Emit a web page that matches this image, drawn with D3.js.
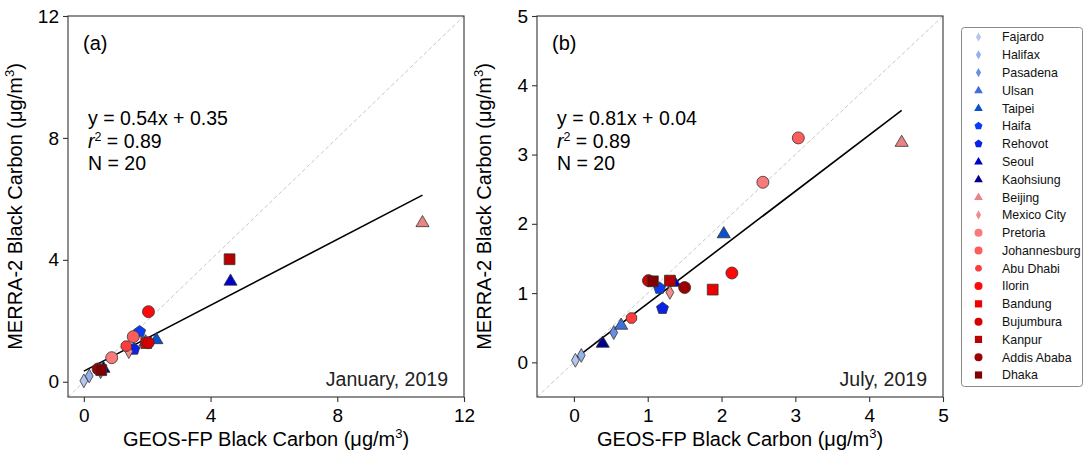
<!DOCTYPE html>
<html><head><meta charset="utf-8">
<script src="https://cdn.jsdelivr.net/npm/d3@7"></script>
<style>
html,body{margin:0;padding:0;background:#fff;}
svg{display:block;font-family:"Liberation Sans",Arial,sans-serif;}
</style></head>
<body><svg id="chart" width="1086" height="452"></svg>
<script>
// ---------------- data ----------------
const sites = ["Fajardo","Halifax","Pasadena","Ulsan","Taipei","Haifa","Rehovot","Seoul","Kaohsiung",
  "Beijing","Mexico City","Pretoria","Johannesburg","Abu Dhabi","Ilorin","Bandung","Bujumbura","Kanpur","Addis Ababa","Dhaka"];
// January 2019
const janGeos  = [0.00,0.17,0.53,1.95,2.29,1.76,1.58,4.63,0.62,10.69,1.42,0.88,1.56,1.34,2.04,1.97,2.03,4.60,0.45,0.55];
const janMerra = [0.03,0.19,0.33,1.32,1.39,1.64,1.07,3.31,0.45,5.23,0.99,0.79,1.48,1.17,2.30,1.27,1.28,4.02,0.42,0.38];
// July 2019
const julGeos  = [0.02,0.10,0.54,0.64,2.03,1.16,1.20,1.36,0.39,4.44,1.30,2.56,3.04,0.78,2.14,1.88,1.01,1.30,1.50,1.07];
const julMerra = [0.03,0.10,0.43,0.54,1.86,1.07,0.78,1.16,0.28,3.18,1.01,2.60,3.24,0.64,1.29,1.05,1.18,1.18,1.08,1.17];
const fits = [
  {slope:0.54, intercept:0.35, r2:"0.89", n:20, label:"(a)", month:"January, 2019"},
  {slope:0.81, intercept:0.04, r2:"0.89", n:20, label:"(b)", month:"July, 2019"}
];
const axisMax = [12, 5];
const tickVals = [[0,4,8,12],[0,1,2,3,4,5]];

// ---------------- styles ----------------
const siteColors = ["#b4c6ec","#93b1ea","#6a8ee6","#3f6fd8","#0a52cc","#0a3cf5","#0a22e8","#0000cc","#00008b",
  "#e88484","#f08c8c","#f87a7a","#ff5c5c","#ff3c3c","#ff0808","#ee0000","#d40000","#b80000","#9c0000","#800000"];
const siteShapes = ["d","d","d","^","^","p","p","^","^","^","d","o","o","h","o","s","o","s","o","s"];

function shapePath(shape, s){
  const pts = [];
  if(shape==="o"){ return d3.symbol(d3.symbolCircle, Math.PI*s*s)(); }
  if(shape==="d"){ const w=s*0.65, h=s*1.15; return `M0,${-h}L${w},0L0,${h}L${-w},0Z`; }
  if(shape==="s"){ const a=s*0.9; return `M${-a},${-a}H${a}V${a}H${-a}Z`; }
  if(shape==="^"){ const a=s*1.15; return `M0,${-a}L${a*0.95},${a*0.62}L${-a*0.95},${a*0.62}Z`; }
  if(shape==="p"){ for(let i=0;i<5;i++){const t=-Math.PI/2+i*2*Math.PI/5; pts.push([Math.cos(t)*s*1.05,Math.sin(t)*s*1.05]);} }
  if(shape==="h"){ for(let i=0;i<8;i++){const t=-Math.PI/2+Math.PI/8+i*Math.PI/4; pts.push([Math.cos(t)*s,Math.sin(t)*s]);} }
  return "M"+pts.map(p=>p.join(",")).join("L")+"Z";
}

const svg = d3.select("#chart");
const panels = [
  {left:68, right:464, top:16, bottom:397, xs:janGeos, ys:janMerra},
  {left:537, right:943, top:16, bottom:397, xs:julGeos, ys:julMerra}
];

panels.forEach((p,pi)=>{
  const fit = fits[pi];
  const x = d3.scaleLinear().domain([-0.5, axisMax[pi]]).range([p.left, p.right]);
  const y = d3.scaleLinear().domain([-0.5, axisMax[pi]]).range([p.bottom, p.top]);
  const g = svg.append("g");

  g.append("line").attr("x1",x(-0.5)).attr("y1",y(-0.5)).attr("x2",x(axisMax[pi])).attr("y2",y(axisMax[pi]))
    .attr("stroke","#c8c8c8").attr("stroke-width",1).attr("stroke-dasharray","4,2.5");

  const xmin = d3.min(p.xs), xmax = d3.max(p.xs);
  g.append("line").attr("x1",x(xmin)).attr("y1",y(fit.slope*xmin+fit.intercept))
    .attr("x2",x(xmax)).attr("y2",y(fit.slope*xmax+fit.intercept))
    .attr("stroke","#000").attr("stroke-width",1.6);

  g.selectAll("path.pt").data(sites).join("path").attr("class","pt")
    .attr("d",(d,i)=>shapePath(siteShapes[i], siteShapes[i]==="h"?5.6:6))
    .attr("transform",(d,i)=>`translate(${x(p.xs[i])},${y(p.ys[i])})`)
    .attr("fill",(d,i)=>siteColors[i]).attr("stroke","#333").attr("stroke-width",0.8);

  g.append("rect").attr("x",p.left).attr("y",p.top).attr("width",p.right-p.left).attr("height",p.bottom-p.top)
    .attr("fill","none").attr("stroke","#333").attr("stroke-width",1.1);

  const xa = g.append("g").attr("transform",`translate(0,${p.bottom})`)
    .call(d3.axisBottom(x).tickValues(tickVals[pi]).tickSize(5).tickPadding(3).tickFormat(d3.format("d")));
  const ya = g.append("g").attr("transform",`translate(${p.left},0)`)
    .call(d3.axisLeft(y).tickValues(tickVals[pi]).tickSize(5).tickPadding(4).tickFormat(d3.format("d")));
  [xa,ya].forEach(a=>{
    a.select(".domain").remove();
    a.selectAll("line").attr("stroke","#333").attr("stroke-width",1.1);
    a.selectAll("text").attr("font-size",19).attr("fill","#000").attr("font-family","Liberation Sans, Arial, sans-serif");
  });
  xa.selectAll("text").attr("dy","0.9em");

  const xt = g.append("text").attr("x",(p.left+p.right)/2).attr("y",446).attr("text-anchor","middle")
    .attr("font-size",20).attr("fill","#000");
  xt.append("tspan").text("GEOS-FP Black Carbon (μg/m");
  xt.append("tspan").text("3").attr("font-size",13).attr("dy",-8);
  xt.append("tspan").text(")").attr("dy",8);

  const cx = p.left-46, cy=(p.top+p.bottom)/2;
  const yt = g.append("text").attr("transform",`translate(${cx},${cy}) rotate(-90)`).attr("text-anchor","middle")
    .attr("font-size",20).attr("fill","#000");
  yt.append("tspan").text("MERRA-2 Black Carbon (μg/m");
  yt.append("tspan").text("3").attr("font-size",13).attr("dy",-8);
  yt.append("tspan").text(")").attr("dy",8);

  g.append("text").attr("x",p.left+15).attr("y",50).attr("font-size",20).text(fit.label);
  const ax = p.left+20;
  g.append("text").attr("x",ax).attr("y",125).attr("font-size",19.5)
    .text(`y = ${fit.slope.toFixed(2)}x + ${fit.intercept.toFixed(2)}`);
  const rt = g.append("text").attr("x",ax).attr("y",147.5).attr("font-size",19.5);
  rt.append("tspan").text("r").attr("font-style","italic");
  rt.append("tspan").text("2").attr("font-size",12.5).attr("dy",-7);
  rt.append("tspan").text(` = ${fit.r2}`).attr("dy",7);
  g.append("text").attr("x",ax).attr("y",169.5).attr("font-size",19.5).text(`N = ${fit.n}`);
  g.append("text").attr("x",p.right-16).attr("y",386).attr("text-anchor","end").attr("font-size",19.5)
    .attr("fill","#222").text(fit.month);
});

// legend
const lg = svg.append("g");
lg.append("rect").attr("x",961.5).attr("y",27.5).attr("width",121).attr("height",359).attr("rx",3)
  .attr("fill","#fff").attr("stroke","#8a8a8a").attr("stroke-width",1);
const ly = d3.scaleLinear().domain([0, sites.length-1]).range([37, 375]);
sites.forEach((s,i)=>{
  lg.append("path").attr("d",shapePath(siteShapes[i], siteShapes[i]==="h"?3.6:4))
    .attr("transform",`translate(978.5,${ly(i)})`).attr("fill",siteColors[i]);
  lg.append("text").attr("x",1002).attr("y",ly(i)+4.4).attr("font-size",12.4).attr("fill","#111").text(s);
});
</script></body></html>
